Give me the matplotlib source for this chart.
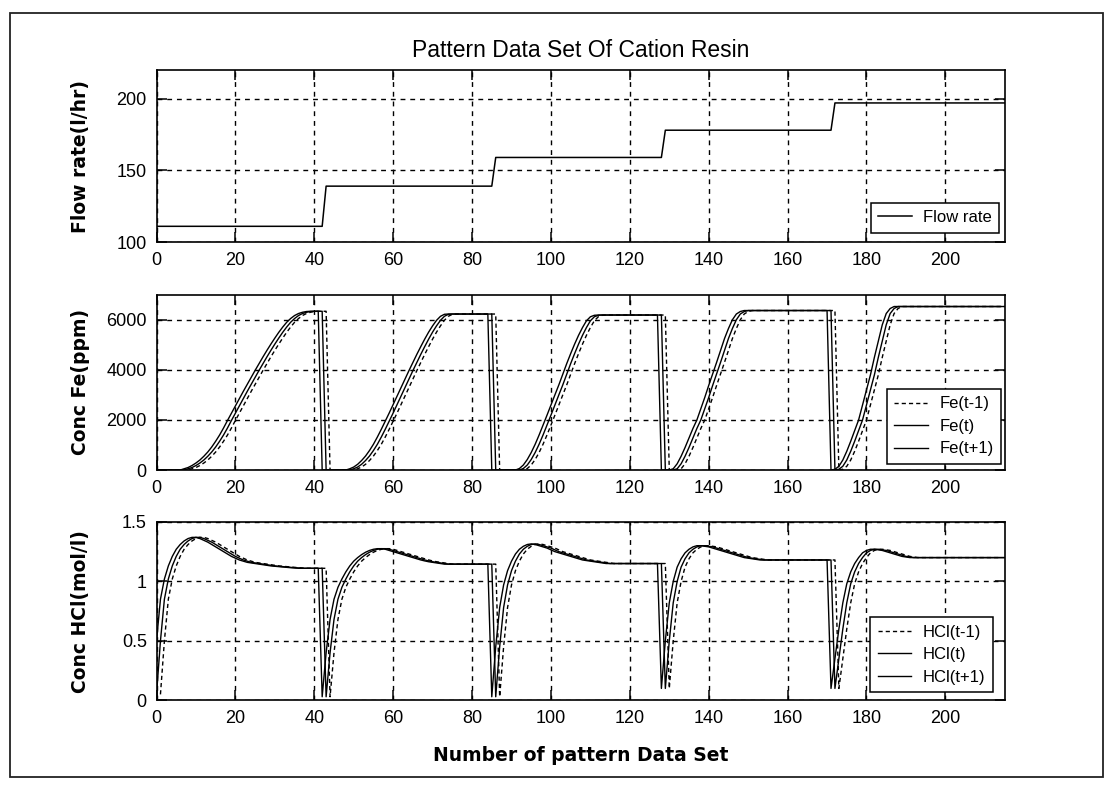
import numpy as np
import matplotlib
matplotlib.use("Agg")
import matplotlib.pyplot as plt
from matplotlib.patches import Rectangle

# ---------------- data ----------------
title = "Pattern Data Set Of Cation Resin"
x_label = "Number of pattern Data Set"
flow_label = "Flow rate(l/hr)"
fe_label = "Conc Fe(ppm)"
hcl_label = "Conc HCl(mol/l)"

x_ticks = [0, 20, 40, 60, 80, 100, 120, 140, 160, 180, 200]
flow_ticks = [100, 150, 200]
fe_ticks = [0, 2000, 4000, 6000]
hcl_ticks = [0, 0.5, 1, 1.5]
hcl_ticklabels = ["0", "0.5", "1", "1.5"]

flow_rate = [111] * 43 + [139] * 43 + [159] * 43 + [178] * 43 + [197] * 44

fe_seg1 = [0] * 8 + [50, 100, 180, 280, 400, 550, 720, 920, 1150, 1400, 1680, 1980,
                     2270, 2560, 2850, 3140, 3420, 3700, 3980, 4250, 4520, 4780, 5030,
                     5270, 5500, 5710, 5900, 6050, 6170, 6250, 6300, 6330, 6340, 6340, 6340]
fe_seg2 = [0] * 7 + [50, 120, 230, 380, 560, 780, 1030, 1320, 1630, 1950, 2280, 2620,
                     2960, 3300, 3640, 3970, 4300, 4620, 4930, 5230, 5510, 5760, 5980,
                     6140, 6220] + [6230] * 11
fe_seg3 = [0] * 7 + [60, 200, 420, 700, 1030, 1400, 1790, 2190, 2600, 3000, 3400, 3830,
                     4250, 4650, 5030, 5380, 5690, 5960, 6120, 6180] + [6190] * 16
fe_seg4 = [0] * 3 + [50, 250, 550, 900, 1280, 1660, 2000, 2450, 2900, 3380, 3840, 4300,
                     4780, 5250, 5650, 6000, 6230, 6330] + [6370] * 22
fe_seg5 = [0] + [30, 150, 400, 750, 1150, 1580, 2000, 2600, 3200, 3800, 4500, 5150,
                 5800, 6250, 6450] + [6530] * 28
fe_conc = fe_seg1 + fe_seg2 + fe_seg3 + fe_seg4 + fe_seg5

hcl_seg1 = [0.05, 0.5, 0.85, 1.02, 1.13, 1.21, 1.27, 1.31, 1.34, 1.36, 1.37, 1.37, 1.36,
            1.345, 1.33, 1.31, 1.29, 1.27, 1.25, 1.23, 1.21, 1.195, 1.18, 1.17, 1.16,
            1.155, 1.15, 1.145, 1.14, 1.135, 1.13, 1.127, 1.124, 1.121, 1.118, 1.115,
            1.113] + [1.11] * 6
hcl_seg2 = [0.03, 0.4, 0.68, 0.85, 0.95, 1.02, 1.08, 1.13, 1.17, 1.2, 1.225, 1.245, 1.26,
            1.27, 1.275, 1.275, 1.27, 1.26, 1.25, 1.24, 1.23, 1.22, 1.21, 1.2, 1.19, 1.18,
            1.172, 1.165, 1.16, 1.155, 1.15] + [1.145] * 12
hcl_seg3 = [0.03, 0.45, 0.78, 0.97, 1.09, 1.17, 1.23, 1.27, 1.295, 1.31, 1.315, 1.31, 1.3,
            1.29, 1.28, 1.265, 1.25, 1.24, 1.23, 1.22, 1.21, 1.2, 1.19, 1.18, 1.175, 1.17,
            1.165, 1.16, 1.155] + [1.15] * 14
hcl_seg4 = [0.1, 0.5, 0.82, 1.0, 1.12, 1.19, 1.24, 1.27, 1.29, 1.3, 1.3, 1.295, 1.29,
            1.28, 1.27, 1.26, 1.25, 1.24, 1.23, 1.22, 1.21, 1.2, 1.195, 1.19,
            1.185] + [1.18] * 18
hcl_seg5 = [0.1, 0.35, 0.6, 0.82, 0.98, 1.08, 1.15, 1.2, 1.24, 1.26, 1.27, 1.27, 1.265,
            1.26, 1.25, 1.24, 1.23, 1.22, 1.21, 1.205] + [1.2] * 24
hcl_conc = hcl_seg1 + hcl_seg2 + hcl_seg3 + hcl_seg4 + hcl_seg5

# ---------------- style ----------------
plt.rcParams['font.family'] = ['Liberation Sans', 'DejaVu Sans']
W, H = 1110, 786
fig = plt.figure(figsize=(W / 100, H / 100), dpi=100)
fig.patch.set_facecolor('white')

# outer frame
fig.add_artist(Rectangle((0.009, 0.011), 0.985, 0.972, transform=fig.transFigure,
                         fill=False, edgecolor='#222222', linewidth=1.3))

left, width = 0.141, 0.764
ax1 = fig.add_axes([left, 0.692, width, 0.219])
ax2 = fig.add_axes([left, 0.402, width, 0.223])
ax3 = fig.add_axes([left, 0.109, width, 0.227])

grid_kw = dict(color='black', linestyle=(0, (3.5, 3.5)), linewidth=1.0)
tick_font = 13
label_font = dict(family='DejaVu Sans', fontweight='bold', fontsize=13.5)
dash_style = (0, (3, 2.2))
legend_prop = {'family': 'Liberation Sans', 'size': 12}


def style_axes(ax, yticks, yticklabels=None):
    ax.set_xlim(0, 215)
    ax.set_xticks(x_ticks)
    ax.set_xticklabels([str(t) for t in x_ticks])
    ax.set_yticks(yticks)
    if yticklabels is not None:
        ax.set_yticklabels(yticklabels)
    ax.tick_params(direction='in', length=7, width=1.1, top=True, right=True,
                   labelsize=tick_font, pad=7, colors='black')
    ax.grid(True, **grid_kw)
    ax.set_axisbelow(True)
    for s in ax.spines.values():
        s.set_linewidth(1.2)
        s.set_color('black')


def add_legend(ax, anchor, spacing):
    leg = ax.legend(loc='lower right', bbox_to_anchor=anchor, borderaxespad=0,
                    handlelength=2.0, fancybox=False, edgecolor='black', framealpha=1,
                    borderpad=0.45, labelspacing=spacing, handletextpad=0.7,
                    prop=legend_prop)
    leg.get_frame().set_linewidth(1.1)
    return leg


x = np.arange(len(flow_rate))

# --- panel 1: flow rate
ax1.plot(x, flow_rate, color='black', linewidth=1.1, label='Flow rate')
ax1.set_ylim(100, 220)
style_axes(ax1, flow_ticks)
ax1.set_title(title, fontsize=16.5, pad=9, family='Liberation Sans')
ax1.set_ylabel(flow_label, **label_font)
ax1.yaxis.set_label_coords(-0.078, 0.5)
add_legend(ax1, (0.994, 0.055), 0.4)

# --- panel 2: Fe
fe = np.array(fe_conc, dtype=float)
ax2.plot(x[1:], fe[:-1], color='black', linewidth=1.0, linestyle=dash_style, label='Fe(t-1)')
ax2.plot(x, fe, color='black', linewidth=1.0, label='Fe(t)')
ax2.plot(x[:-1], fe[1:], color='black', linewidth=1.0, label='Fe(t+1)')
ax2.set_ylim(0, 7000)
style_axes(ax2, fe_ticks)
ax2.set_ylabel(fe_label, **label_font)
ax2.yaxis.set_label_coords(-0.078, 0.5)
add_legend(ax2, (0.996, 0.035), 0.45)

# --- panel 3: HCl
hcl = np.array(hcl_conc, dtype=float)
ax3.plot(x[1:], hcl[:-1], color='black', linewidth=1.0, linestyle=dash_style, label='HCl(t-1)')
ax3.plot(x, hcl, color='black', linewidth=1.0, label='HCl(t)')
ax3.plot(x[:-1], hcl[1:], color='black', linewidth=1.0, label='HCl(t+1)')
ax3.set_ylim(0, 1.5)
style_axes(ax3, hcl_ticks, hcl_ticklabels)
ax3.set_ylabel(hcl_label, **label_font)
ax3.yaxis.set_label_coords(-0.078, 0.5)
ax3.set_xlabel(x_label, family='DejaVu Sans', fontweight='bold', fontsize=13.5, labelpad=14)
add_legend(ax3, (0.986, 0.045), 0.45)

fig.savefig('out.png', dpi=100, facecolor='white')
